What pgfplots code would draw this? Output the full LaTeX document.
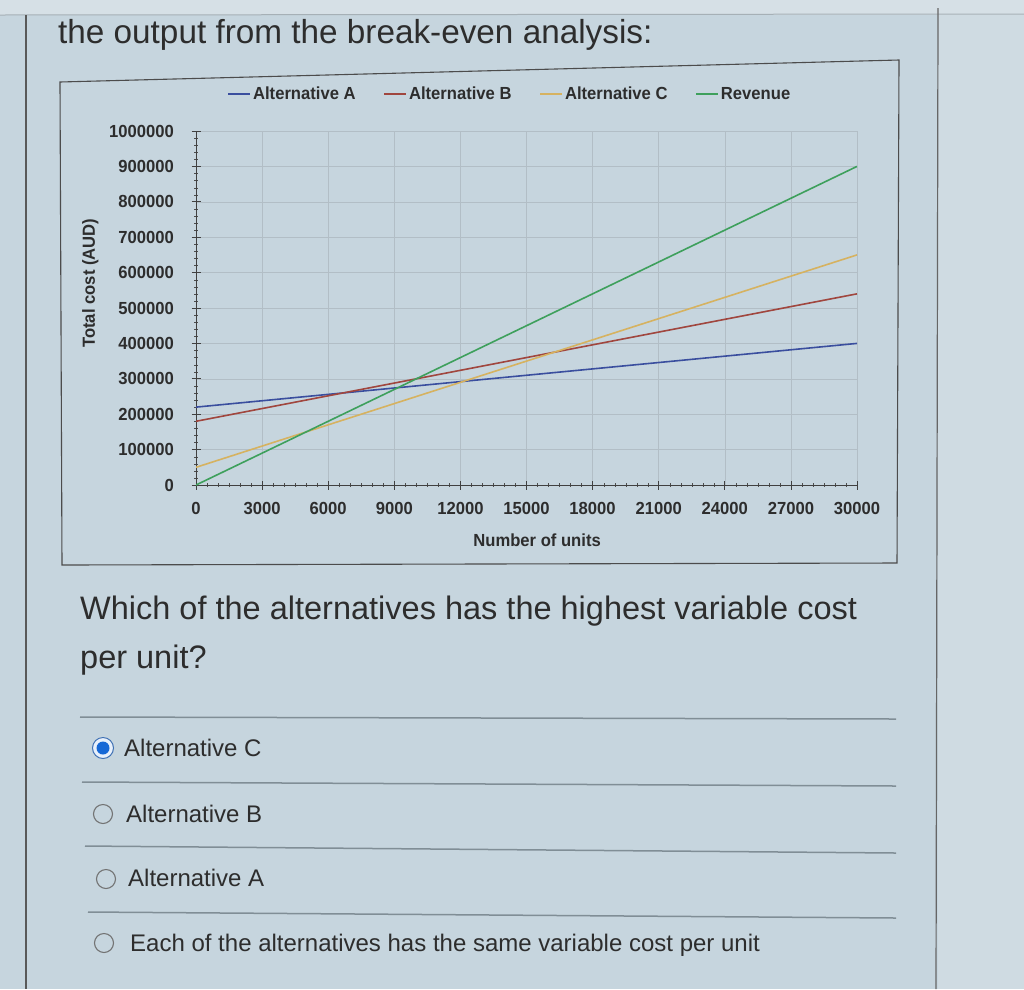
\documentclass[border=0pt]{standalone}
\usepackage{pgfplots}
\pgfplotsset{compat=1.18}
\usepackage{fontspec}
\setmainfont{Liberation Sans}
\newfontfamily\chartfont[FakeStretch=0.95]{Liberation Sans}

\definecolor{pagebg}{RGB}{198,213,222}
\definecolor{sidebg}{RGB}{207,219,226}
\definecolor{topbg}{RGB}{214,224,230}
\definecolor{ink}{RGB}{45,45,45}
\definecolor{rulegray}{RGB}{128,142,150}
\definecolor{gridgray}{RGB}{178,190,198}
\definecolor{altA}{RGB}{58,78,158}
\definecolor{altB}{RGB}{160,70,62}
\definecolor{altC}{RGB}{214,178,96}
\definecolor{rev}{RGB}{62,160,92}
\definecolor{radioblue}{RGB}{22,104,214}

\begin{document}
\begin{tikzpicture}[x=1pt,y=1pt]
  % page (pixel coordinates, y downwards as negative)
  \fill[pagebg] (0,0) rectangle (1024,-989);
  \useasboundingbox (0,0) rectangle (1024,-989);
  \fill[topbg] (0,0) rectangle (1024,-15);
  \fill[sidebg] (938,-15) rectangle (1024,-989);
  \draw[rulegray!70, line width=1pt] (0,-15) -- (1024,-14);
  \draw[gray!70!black, line width=1.1pt] (26,-15) -- (26,-989);
  \draw[gray!80!black, line width=1.2pt] (938,-8) -- (936,-989);

  \node[anchor=base west, inner sep=0, text=ink, font=\fontsize{33.3}{38}\selectfont]
    at (58,-43) {the output from the break-even analysis:};

  % chart frame
  \draw[gray!60!black, line width=1.1pt] (60,-82) -- (899,-60) -- (897,-563) -- (62,-565) -- cycle;

  \begin{axis}[
    at={(196pt,-485pt)}, anchor=south west,
    scale only axis, width=661pt, height=354pt,
    xmin=0, xmax=30000, ymin=0, ymax=1000000,
    xtick={0,3000,...,30000}, ytick={0,100000,...,1000000},
    minor x tick num=5, minor y tick num=4,
    scaled ticks=false,
    /pgf/number format/fixed, /pgf/number format/1000 sep={},
    /pgf/number format/assume math mode=true,
    axis x line*=bottom, axis y line*=left,
    axis line style={black!75, line width=0.9pt},
    major tick length=9pt, minor tick length=3.5pt,
    tick align=center,
    minor tick style={black!70},
    major tick style={black!75, line width=0.8pt},
    grid=major,
    major grid style={gridgray, line width=0.6pt},
    tick label style={font=\chartfont\bfseries\fontsize{17.5}{17.5}\selectfont, text=ink},
    xticklabel style={yshift=-9pt},
    yticklabel style={xshift=-14pt},
    xlabel={Number of units},
    ylabel={Total cost (AUD)},
    label style={font=\chartfont\bfseries\fontsize{17.5}{17.5}\selectfont, text=ink},
    xlabel style={at={(axis description cs:0.516,-0.155)}, anchor=center},
    ylabel style={at={(axis description cs:-0.16,0.57)}, anchor=center},
    legend columns=4,
    legend style={draw=none, fill=none, at={(axis description cs:0.475,1.105)}, anchor=center,
      font=\chartfont\bfseries\fontsize{17.5}{17.5}\selectfont, text=ink,
      /tikz/every even column/.append style={column sep=26pt}},
    legend image code/.code={\draw[#1, line width=1.4pt] (0pt,0pt) -- (22pt,0pt);},
  ]
    \addplot[altA, line width=1.6pt] coordinates {(0,220000) (30000,400000)};
    \addlegendentry{Alternative A}
    \addplot[altB, line width=1.6pt] coordinates {(0,180000) (30000,540000)};
    \addlegendentry{Alternative B}
    \addplot[altC, line width=1.6pt] coordinates {(0,50000) (30000,650000)};
    \addlegendentry{Alternative C}
    \addplot[rev, line width=1.6pt] coordinates {(0,0) (30000,900000)};
    \addlegendentry{Revenue}
  \end{axis}

  % question
  \node[anchor=base west, inner sep=0, text=ink, font=\fontsize{32.5}{36}\selectfont]
    at (80,-619) {Which of the alternatives has the highest variable cost};
  \node[anchor=base west, inner sep=0, text=ink, font=\fontsize{32.5}{36}\selectfont]
    at (80,-668) {per unit?};

  % separators
  \foreach \ya/\yb/\xa in {717/719/80, 782/786/82, 846/853/85, 912/918/88}
    \draw[rulegray, line width=1.5pt] (\xa,-\ya) -- (896,-\yb);

  % radio buttons
  \fill[white!60!radioblue!25] (103,-748) circle (10.5);
  \draw[radioblue!60!gray, line width=1pt] (103,-748) circle (10.5);
  \fill[radioblue] (103,-748) circle (6.5);
  \foreach \xc/\yc in {103/814, 106/879, 104/943}
    \draw[gray!90!black, line width=1.1pt] (\xc,-\yc) circle (9.5);

  \foreach \xt/\yt/\txt in {124/756/{Alternative C}, 126/822/{Alternative B}, 128/886/{Alternative A},
      130/951/{Each of the alternatives has the same variable cost per unit}}
    \node[anchor=base west, inner sep=0, text=ink, font=\fontsize{24}{28}\selectfont] at (\xt,-\yt) {\txt};
\end{tikzpicture}
\end{document}
